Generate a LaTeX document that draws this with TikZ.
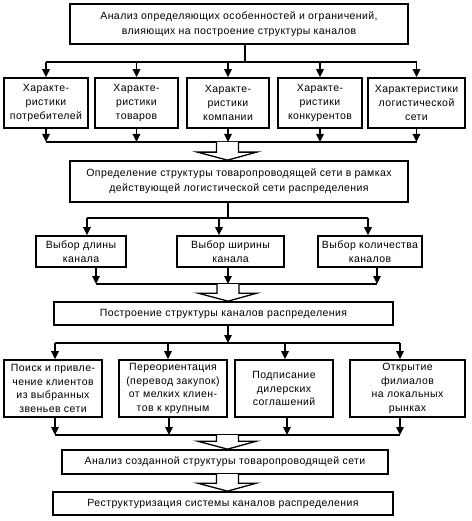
\documentclass[tikz,border=0pt]{standalone}
\usepackage{fontspec}
\setmainfont{Liberation Sans}[LetterSpace=4]
\usetikzlibrary{arrows.meta,calc}
\begin{document}
\begin{tikzpicture}[x=1pt,y=-1pt,
  box/.style={draw, line width=1.7pt, fill=white, inner sep=0pt, align=center,
    font=\fontsize{10.5}{13.5}\selectfont},
  conn/.style={line width=1.4pt},
  arr/.style={conn, -{Triangle[width=7.5pt,length=8pt]}},
  hol/.style={line width=1.3pt, fill=white, line join=miter}]
\useasboundingbox (0,0) rectangle (471,521);
\newcommand{\harrow}[2]{%
  \draw[hol] ($(#1)+(-11,0)$) -- ($(#2 -| #1)+(-11,-8)$) -- ($(#2 -| #1)+(-30,-8)$)
    -- (#2 -| #1) -- ($(#2 -| #1)+(29,-8)$) -- ($(#2 -| #1)+(11,-8)$) -- ($(#1)+(11,0)$);}

\node[box, minimum width=338pt, minimum height=40pt, font=\fontsize{10.5}{15}\selectfont] (top) at (239,24)
  {Анализ определяющих особенностей и ограничений,\\влияющих на построение структуры каналов};

\node[box, minimum width=84pt, minimum height=50pt, font=\fontsize{10.5}{14}\selectfont] (r1) at (46,103) {Характе-\\ристики\\потребителей};
\node[box, minimum width=83pt, minimum height=50pt, font=\fontsize{10.5}{14}\selectfont] (r2) at (136.5,103) {Характе-\\ристики\\товаров};
\node[box, minimum width=82pt, minimum height=50pt, font=\fontsize{10.5}{14}\selectfont] (r3) at (228,103) {Характе-\\ристики\\компании};
\node[box, minimum width=84pt, minimum height=50pt, font=\fontsize{10.5}{14}\selectfont] (r4) at (320,103) {Характе-\\ристики\\конкурентов};
\node[box, minimum width=97pt, minimum height=50pt, font=\fontsize{10.5}{14}\selectfont] (r5) at (416.5,103) {Характеристики\\логистической\\сети};

\node[box, minimum width=338pt, minimum height=41pt, font=\fontsize{10.5}{15}\selectfont] (def) at (239,181.5)
  {Определение структуры товаропроводящей сети в рамках\\действующей логистической сети распределения};

\node[box, minimum width=90pt, minimum height=31pt] (v1) at (81,251.5) {Выбор длины\\канала};
\node[box, minimum width=107pt, minimum height=31pt] (v2) at (230.5,251.5) {Выбор ширины\\канала};
\node[box, minimum width=104pt, minimum height=31pt] (v3) at (370,251.5) {Выбор количества\\каналов};

\node[box, minimum width=339pt, minimum height=23pt] (build) at (223.5,313.5) {Построение структуры каналов распределения};

\node[box, minimum width=98pt, minimum height=57pt] (p1) at (53,388.5) {Поиск и привле-\\чение клиентов\\из выбранных\\звеньев сети};
\node[box, minimum width=108pt, minimum height=57pt] (p2) at (173,388.5) {Переориентация\\(перевод закупок)\\от мелких клиен-\\тов к крупным};
\node[box, minimum width=98pt, minimum height=57pt] (p3) at (284,388.5) {Подписание\\дилерских\\соглашений};
\node[box, minimum width=115pt, minimum height=57pt] (p4) at (407.5,388.5) {Открытие\\филиалов\\на локальных\\рынках};

\node[box, minimum width=326pt, minimum height=24pt] (anal) at (225,462) {Анализ созданной структуры товаропроводящей сети};
\node[box, minimum width=340pt, minimum height=23pt] (restr) at (223,503.5) {Реструктуризация системы каналов распределения};

% level 1 -> 2
\coordinate (b1) at (245,62);
\draw[conn] (top.south -| b1) -- (b1);
\draw[conn] (b1 -| r1) -- (b1 -| r5);
\foreach \n in {r1,r2,r3,r4,r5} \draw[arr] (b1 -| \n) -- (\n.north);
% level 2 -> def
\coordinate (b2) at (227.5,142);
\draw[conn] (b2 -| r1) -- (b2 -| r5);
\foreach \n in {r1,r2,r3,r4,r5} \draw[arr] (\n.south) -- (b2 -| \n);
\harrow{b2}{def.north}
% def -> choices
\coordinate (b3) at (228,218);
\coordinate (v1t) at (87,218); \coordinate (v2t) at (219,218); \coordinate (v3t) at (368,218);
\draw[conn] (def.south -| b3) -- (b3);
\draw[conn] (v1t) -- (v3t);
\foreach \n in {1,2,3} \draw[arr] (v\n t) -- (v\n.north -| v\n t);
% choices -> build
\coordinate (v1b) at (96,284); \coordinate (v2b) at (228,284); \coordinate (v3b) at (377,284);
\foreach \n in {1,2,3} \draw[arr] (v\n.south -| v\n b) -- (v\n b);
\draw[conn] (v1b) -- (v3b);
\harrow{v2b}{build.north}
% build -> actions
\coordinate (b5) at (228,343);
\coordinate (p1t) at (55,343); \coordinate (p2t) at (168,343); \coordinate (p3t) at (285,343); \coordinate (p4t) at (400,343);
\draw[arr] (build.south -| b5) -- (b5);
\draw[conn] (p1t) -- (p4t);
\foreach \n in {1,2,3,4} \draw[arr] (p\n t) -- (p\n.north -| p\n t);
% actions -> analysis
\coordinate (p1b) at (55,435); \coordinate (p2b) at (169,435); \coordinate (p3b) at (287,435); \coordinate (p4b) at (400,435);
\coordinate (b6) at (227.5,435);
\foreach \n in {1,2,3,4} \draw[arr] (p\n.south -| p\n b) -- (p\n b);
\draw[conn] (p1b) -- (p4b);
\harrow{b6}{anal.north}
% analysis -> restructuring
\coordinate (b7) at (227.5,474);
\harrow{b7}{restr.north}
\end{tikzpicture}
\end{document}
